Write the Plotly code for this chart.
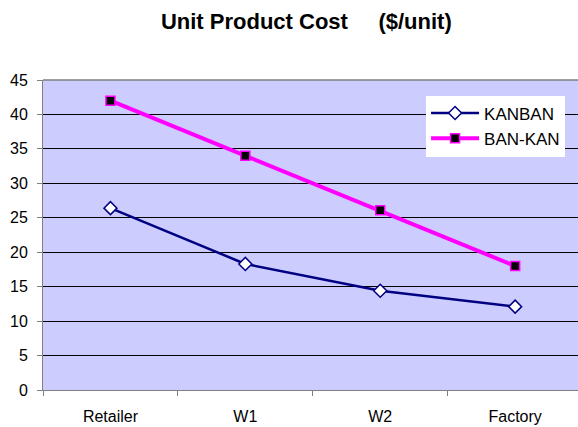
import plotly.graph_objects as go

# Supply-chain stages and unit product cost for each policy
stages = ["Retailer", "W1", "W2", "Factory"]
kanban_cost = [26.4, 18.3, 14.4, 12.1]
bankan_cost = [42.0, 34.0, 26.1, 18.0]
y_ticks = [0, 5, 10, 15, 20, 25, 30, 35, 40, 45]

fig = go.Figure()
fig.add_trace(go.Scatter(
    x=stages, y=kanban_cost, name="KANBAN", mode="lines+markers",
    legendgroup="kanban",
    line=dict(color="#000080", width=2.5),
    marker=dict(symbol="diamond", size=10, color="white",
                line=dict(color="#000080", width=1.5)),
))
fig.add_trace(go.Scatter(
    x=stages, y=bankan_cost, name="BAN-KAN", mode="lines+markers",
    legendgroup="bankan",
    line=dict(color="#FF00FF", width=4),
    marker=dict(symbol="square", size=9, color="black",
                line=dict(color="#FF00FF", width=1.5)),
))

fig.update_layout(
    width=578, height=427,
    margin=dict(l=43, r=0, t=80, b=37),
    paper_bgcolor="white", plot_bgcolor="#CCCCFF",
    font=dict(family="Arial, Liberation Sans, sans-serif", color="black", size=16),
    title=dict(text="<b>Unit Product Cost     ($/unit)</b>", x=0.53, xanchor="center",
               y=0.95, yanchor="middle", font=dict(size=22)),
    showlegend=True,
    legend=dict(x=0.716, y=0.95, xanchor="left", yanchor="top",
                bgcolor="white", borderwidth=0, font=dict(size=17),
                itemwidth=48, tracegroupgap=5, traceorder="normal"),
    xaxis=dict(range=[-0.5, 3.466], showgrid=False, tickson="boundaries",
               ticks="outside", ticklen=5, tickcolor="#808080",
               showline=True, linecolor="#808080", linewidth=1,
               ticklabelstandoff=12, zeroline=False),
    yaxis=dict(range=[0, 45], tickvals=y_ticks, ticks="outside", ticklen=5,
               tickcolor="#808080", showgrid=True, gridcolor="black", gridwidth=1,
               showline=True, linecolor="#808080", linewidth=1, mirror=False,
               zeroline=False, ticklabelstandoff=6),
)
# gray top border of the plot area
fig.add_shape(type="line", xref="paper", yref="paper", x0=0, x1=1, y0=1, y1=1,
              line=dict(color="#808080", width=1.5))

fig.write_html("out.html")
